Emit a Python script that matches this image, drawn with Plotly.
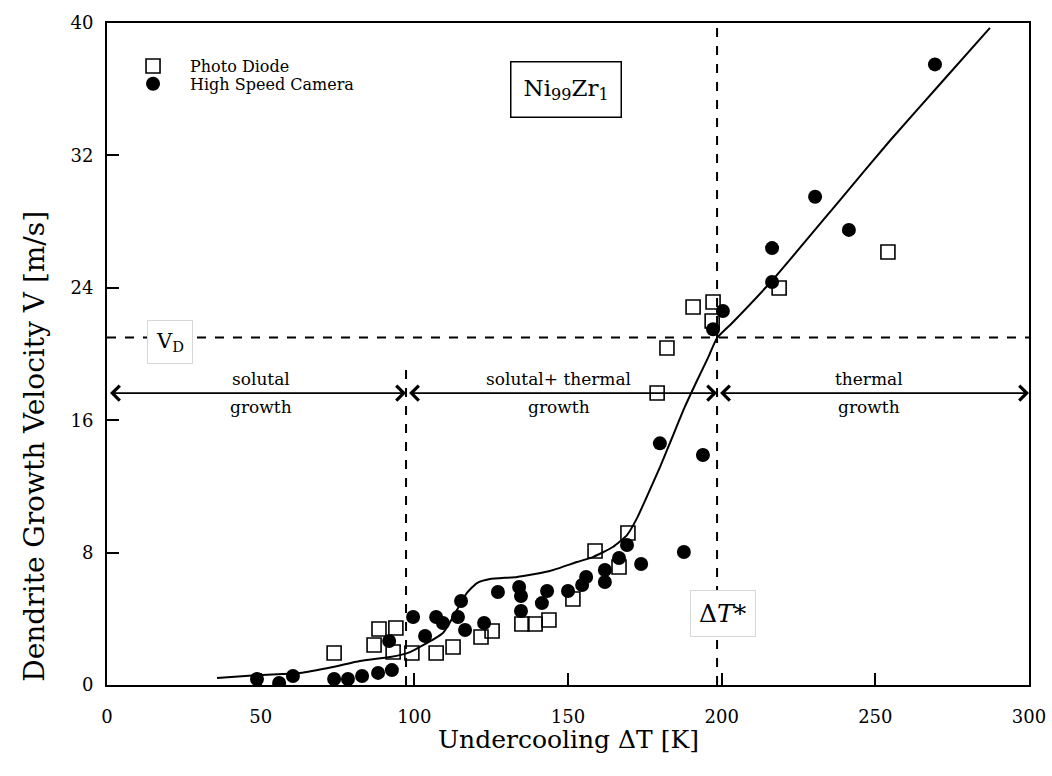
import plotly.graph_objects as go

# ---- data ----
pd_x = [73.9, 86.9, 88.5, 93.1, 94.0, 99.2, 107.1, 112.6, 121.7, 125.3, 135.0, 139.3,
        143.8, 151.6, 158.8, 166.6, 169.5, 179.0, 182.2, 190.7, 196.9, 197.2, 218.7, 254.1]
pd_y = [1.93, 2.42, 3.38, 1.99, 3.44, 1.93, 1.93, 2.30, 2.90, 3.26, 3.69, 3.69,
        3.93, 5.20, 8.10, 7.13, 9.18, 17.64, 20.36, 22.84, 21.99, 23.14, 23.99, 26.16]

hs_x = [48.8, 56.0, 60.5, 73.9, 78.4, 83.0, 88.2, 92.7, 91.8, 99.6, 103.5, 107.1, 109.3,
        114.2, 115.2, 116.5, 122.7, 127.2, 134.1, 134.7, 134.7, 141.5, 143.2, 150.0, 154.6,
        155.9, 162.0, 162.0, 166.6, 169.2, 173.8, 179.9, 187.7, 193.9, 197.2, 200.4, 216.4,
        216.4, 230.4, 241.4, 269.4]
hs_y = [0.36, 0.12, 0.54, 0.36, 0.36, 0.54, 0.73, 0.90, 2.66, 4.11, 2.96, 4.11, 3.75,
        4.11, 5.08, 3.32, 3.75, 5.62, 5.92, 5.38, 4.47, 4.95, 5.68, 5.68, 6.04,
        6.53, 6.95, 6.22, 7.67, 8.46, 7.31, 14.60, 8.04, 13.90, 21.50, 22.60, 24.35,
        26.40, 29.50, 27.50, 37.50]

fit_x = [35.8, 49.8, 62.8, 73.5, 82.3, 92.1, 98.6, 101.8, 109.3, 117.1, 120.4, 124.6,
         133.4, 144.1, 152.9, 158.1, 164.6, 169.2, 172.5, 175.7, 180.0, 184.0, 188.0,
         192.0, 195.5, 198.5, 203.0, 216.7, 238.5, 254.8, 271.0, 287.3]
fit_y = [0.42, 0.60, 0.73, 1.09, 1.45, 1.69, 1.99, 2.30, 3.14, 5.56, 6.16, 6.40,
         6.53, 6.89, 7.43, 7.73, 8.34, 9.06, 10.10, 11.40, 13.20, 15.00, 16.80,
         18.40, 19.75, 20.97, 21.80, 24.50, 29.30, 32.90, 36.30, 39.70]

x_ticks = [0, 50, 100, 150, 200, 250, 300]
y_ticks = [0, 8, 16, 24, 32, 40]

V_D = 21.0
DT_STAR = 198.5
DT_SOLUTAL = 97.3
SOLUTAL_TOP = 19.5
ARROW_Y = 17.64
X_MAX = 300
Y_MAX = 40

SERIF = "DejaVu Serif"

fig = go.Figure()

fig.add_trace(go.Scatter(
    x=fit_x, y=fit_y, mode="lines", line=dict(color="black", width=2, shape="spline", smoothing=0.5),
    showlegend=False, hoverinfo="skip"))

fig.add_trace(go.Scatter(
    x=pd_x, y=pd_y, mode="markers", name="Photo Diode", legend="legend",
    marker=dict(symbol="square-open", size=14, color="black", line=dict(width=1.6, color="black"))))

fig.add_trace(go.Scatter(
    x=hs_x, y=hs_y, mode="markers", name="High Speed Camera", legend="legend2",
    marker=dict(symbol="circle", size=14, color="black")))

dash = dict(color="black", width=2, dash="dash")
fig.add_shape(type="line", x0=0, x1=X_MAX, y0=V_D, y1=V_D, line=dash, layer="below")
fig.add_shape(type="line", x0=DT_STAR, x1=DT_STAR, y0=0, y1=Y_MAX, line=dash, layer="below")
fig.add_shape(type="line", x0=DT_SOLUTAL, x1=DT_SOLUTAL, y0=0, y1=SOLUTAL_TOP, line=dash, layer="below")

# double-headed arrows
segments = [(0, DT_SOLUTAL), (DT_SOLUTAL, DT_STAR), (DT_STAR, X_MAX)]
for a, b in segments:
    fig.add_annotation(x=b, y=ARROW_Y, ax=a, ay=ARROW_Y, axref="x", ayref="y", xref="x", yref="y",
                       text=" ", showarrow=True, arrowhead=4, startarrowhead=4, arrowside="end+start",
                       arrowsize=1.6, startarrowsize=1.6, arrowwidth=1.8, arrowcolor="black",
                       standoff=0, startstandoff=0)

labels = [("solutal", "growth", 50.0), ("solutal+ thermal", "growth", 147.0), ("thermal", "growth", 248.0)]
for top, bot, xc in labels:
    fig.add_annotation(x=xc, y=ARROW_Y, text=top, showarrow=False, yanchor="bottom", yshift=2,
                       font=dict(family=SERIF, size=17, color="black"))
    fig.add_annotation(x=xc, y=ARROW_Y, text=bot, showarrow=False, yanchor="top", yshift=-2,
                       font=dict(family=SERIF, size=17, color="black"))

fig.add_annotation(x=149.3, y=36.0, text="Ni<sub>99</sub>Zr<sub>1</sub>", showarrow=False,
                   font=dict(family=SERIF, size=23, color="black"), bordercolor="black",
                   borderwidth=1.5, borderpad=12, bgcolor="white")
fig.add_annotation(x=20.5, y=20.7, text="V<sub>D</sub>", showarrow=False,
                   font=dict(family=SERIF, size=21, color="black"), bordercolor="#d8d8d8",
                   borderwidth=1, borderpad=8, bgcolor="white")
fig.add_annotation(x=200.3, y=4.35, text="Δ<i>T</i>*", showarrow=False,
                   font=dict(family=SERIF, size=25, color="black"), bordercolor="#d8d8d8",
                   borderwidth=1, borderpad=8, bgcolor="white")

# axis titles
fig.add_annotation(xref="paper", yref="paper", x=0.5, y=0, yshift=-54, text="Undercooling ΔT [K]",
                   showarrow=False, xanchor="center", yanchor="middle",
                   font=dict(family=SERIF, size=25, color="black"))
fig.add_annotation(xref="paper", yref="paper", x=0, xshift=-72, y=0.36, textangle=-90,
                   text="Dendrite Growth Velocity V [m/s]", showarrow=False,
                   xanchor="center", yanchor="middle",
                   font=dict(family=SERIF, size=28, color="black"))

axis_common = dict(showgrid=False, zeroline=False, showline=True, linecolor="black", linewidth=2,
                   mirror=True, ticks="inside", ticklen=12, tickwidth=2, tickcolor="black",
                   automargin=False, tickfont=dict(family=SERIF, size=18, color="black"))

legend_common = dict(xanchor="left", yanchor="middle", bgcolor="rgba(0,0,0,0)", borderwidth=0,
                     font=dict(family=SERIF, size=16, color="black"), itemwidth=64)

fig.update_layout(
    width=1052, height=776,
    margin=dict(l=107, r=23, t=23, b=91),
    paper_bgcolor="white", plot_bgcolor="white",
    xaxis=dict(range=[0, X_MAX], tickvals=x_ticks, ticklabelstandoff=14, **axis_common),
    yaxis=dict(range=[0, Y_MAX], tickvals=y_ticks, ticklabelstandoff=8, **axis_common),
    legend=dict(x=0.0098, y=0.935, **legend_common),
    legend2=dict(x=0.0098, y=0.908, **legend_common),
)

fig.write_html("out.html")
